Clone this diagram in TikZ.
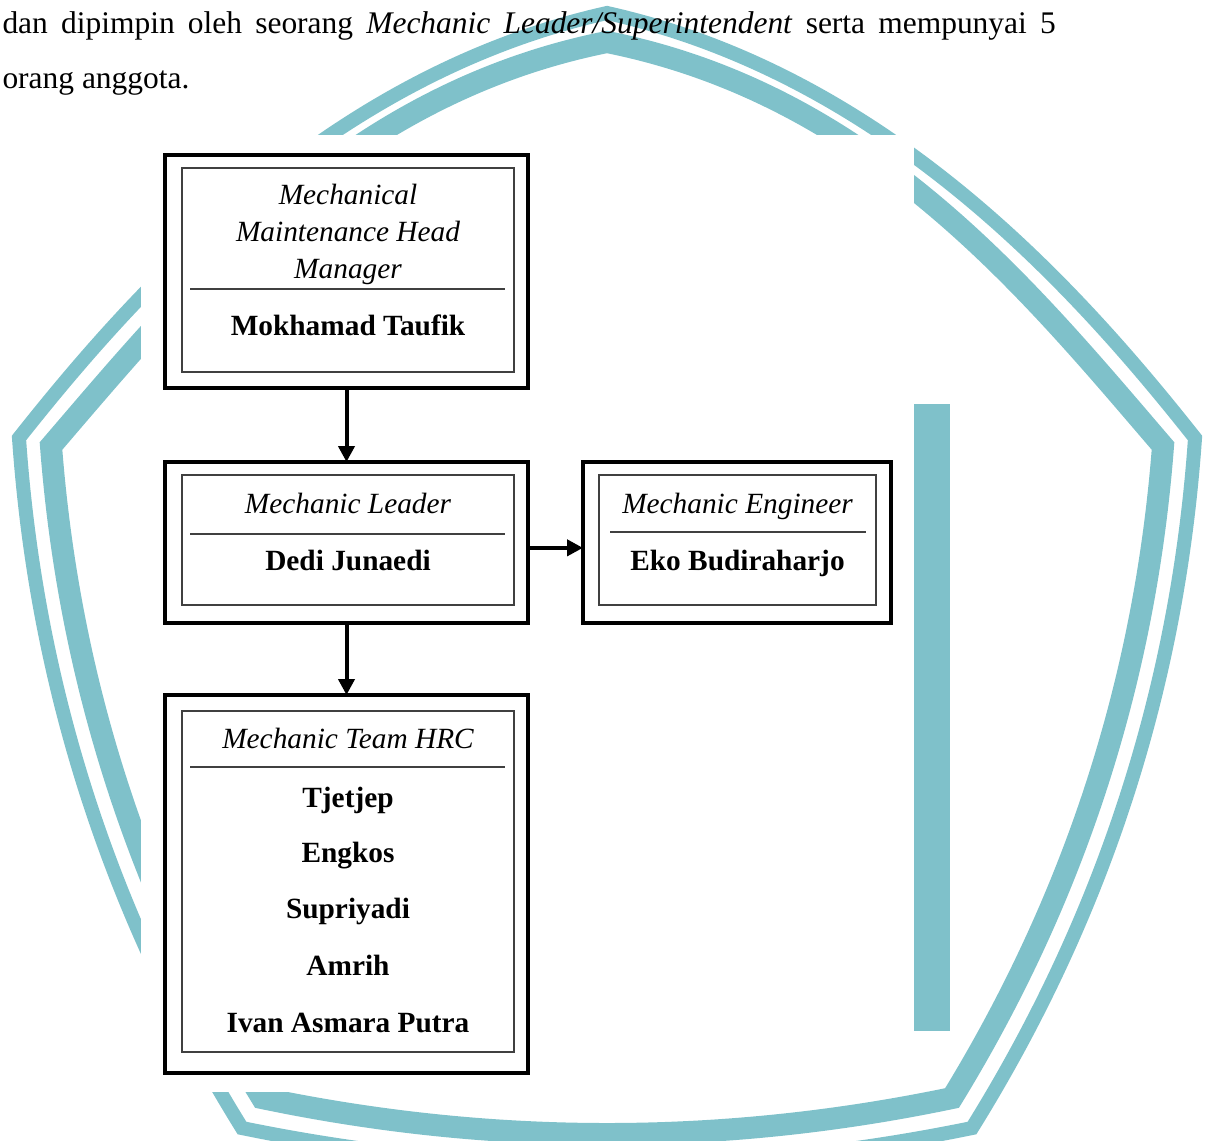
\documentclass[tikz,border=0pt]{standalone}
\usepackage{fontspec}
\setmainfont{Liberation Serif}
\usetikzlibrary{arrows.meta}

\definecolor{logoteal}{RGB}{127,193,202}
\definecolor{framegray}{RGB}{64,64,64}

\tikzset{every picture/.style={line width=0.75pt}}
\tikzset{
  outerbox/.style={draw=black, line width=2.6pt, inner sep=0pt, outer sep=0pt},
  innerbox/.style={draw=framegray, line width=1.1pt, inner sep=0pt, outer sep=0pt},
  sepline/.style={draw=framegray, line width=1.1pt},
  roletext/.style={font=\fontsize{22}{27.75}\selectfont\itshape, align=center, inner sep=0pt, anchor=base},
  person/.style={font=\fontsize{22}{26}\selectfont\bfseries, inner sep=0pt, anchor=base},
  bodytext/.style={font=\fontsize{23.6}{28}\selectfont, inner sep=0pt, anchor=base west},
  link/.style={line width=3pt, -{Triangle[length=12pt,width=12pt]}},
  band/.style={draw=logoteal, line join=miter},
}

\begin{document}
\begin{tikzpicture}[x=0.75pt,y=0.75pt,yscale=-1,xscale=1]
\useasboundingbox (0,0) rectangle (1213,1140);

%Shape: outer band of the logo
\draw [band, line width=10.5pt] (607,13) .. controls (330,75) and (140,285) .. (19,438) .. controls (36.2,686.5) and (110.6,916.5) .. (242,1128) .. controls (485,1178) and (729,1178) .. (972,1128) .. controls (1103.4,916.5) and (1177.8,686.5) .. (1195,438) .. controls (1074,285) and (884,75) .. cycle ;
%Shape: inner band of the logo
\draw [band, line width=16.5pt] (607,42) .. controls (342,95) and (185,290) .. (51,446) .. controls (68.9,680.2) and (139.3,897.6) .. (262,1098) .. controls (492,1146) and (722,1146) .. (952,1098) .. controls (1074.7,897.6) and (1145.1,680.2) .. (1163,446) .. controls (1029,290) and (872,95) .. cycle ;
%Shape: white sheet of the chart
\fill [white] (141,135) rectangle (914,1092) ;
%Shape: bar of the logo
\fill [logoteal] (914,404) rectangle (950,1031) ;

% Text Node
\draw (2,33) node [bodytext] (line1) {\makebox[790pt][s]{dan dipimpin oleh seorang \textit{Mechanic Leader/Superintendent} serta mempunyai 5}};
% Text Node
\draw (2,88) node [bodytext] (line2) {orang anggota.};

%Shape: Head Manager box
\draw (346.5,271.5) node [outerbox, minimum width=272.25pt, minimum height=174.75pt] (hm) {};
\draw (348,270) node [innerbox, minimum width=249pt, minimum height=153pt] (hmIn) {};
\draw [sepline] (190,289) -- (505,289) ;
%Shape: Mechanic Leader box
\draw (346.5,542.5) node [outerbox, minimum width=272.25pt, minimum height=120.75pt] (ml) {};
\draw (348,540) node [innerbox, minimum width=249pt, minimum height=97.5pt] (mlIn) {};
\draw [sepline] (190,534) -- (505,534) ;
%Shape: Mechanic Engineer box
\draw (737,542.5) node [outerbox, minimum width=231pt, minimum height=120.75pt] (me) {};
\draw (737.5,540) node [innerbox, minimum width=207.75pt, minimum height=97.5pt] (meIn) {};
\draw [sepline] (610,532) -- (866,532) ;
%Shape: Mechanic Team box
\draw (346.5,884) node [outerbox, minimum width=272.25pt, minimum height=283.5pt] (team) {};
\draw (348,881.5) node [innerbox, minimum width=249pt, minimum height=255.75pt] (teamIn) {};
\draw [sepline] (190,767) -- (505,767) ;

% Text Node
\draw (348,278) node [roletext] (hmRole) {Mechanical\\Maintenance Head\\Manager};
% Text Node
\draw (348,335) node [person] (hmName) {Mokhamad Taufik};
% Text Node
\draw (348,513) node [roletext] (mlRole) {Mechanic Leader};
% Text Node
\draw (348,570) node [person] (mlName) {Dedi Junaedi};
% Text Node
\draw (737.5,513) node [roletext] (meRole) {Mechanic Engineer};
% Text Node
\draw (737.5,570) node [person] (meName) {Eko Budiraharjo};
% Text Node
\draw (348,748) node [roletext] (teamRole) {Mechanic Team HRC};
% Text Node
\draw (348,807) node [person] (m1) {Tjetjep};
% Text Node
\draw (348,862) node [person] (m2) {Engkos};
% Text Node
\draw (348,918) node [person] (m3) {Supriyadi};
% Text Node
\draw (348,975) node [person] (m4) {Amrih};
% Text Node
\draw (348,1032) node [person] (m5) {Ivan Asmara Putra};

%Connectors
\draw [link] (hm) -- (ml) ;
\draw [link] ([yshift=4pt]ml.east) -- ([yshift=4pt]me.west) ;
\draw [link] (ml) -- (team) ;

\end{tikzpicture}
\end{document}
